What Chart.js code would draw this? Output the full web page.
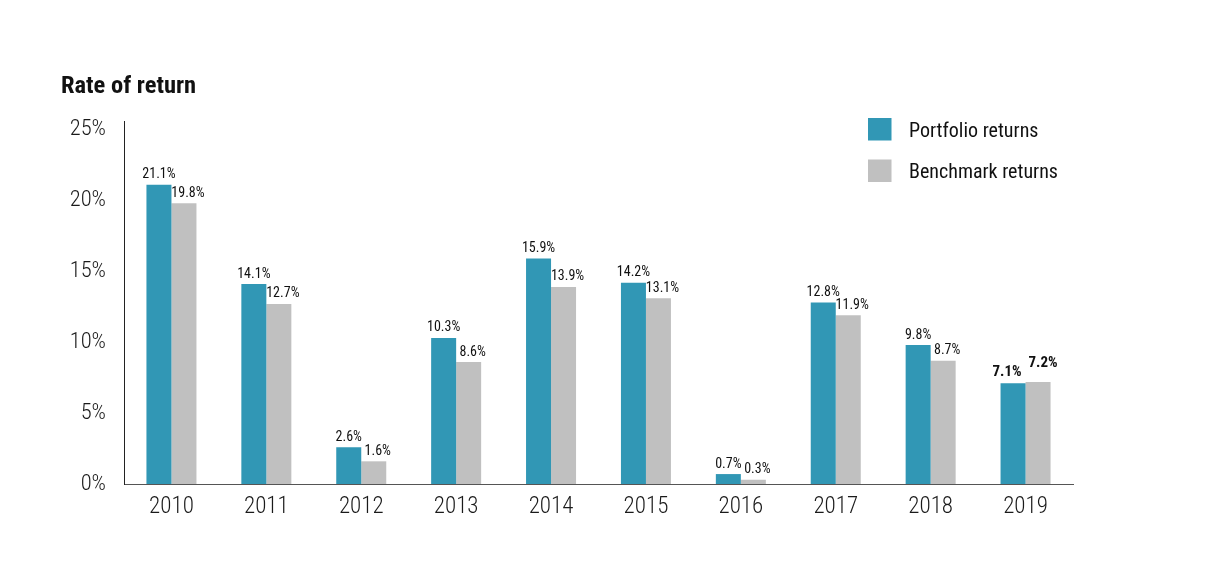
<!DOCTYPE html>
<html>
<head>
<meta charset="utf-8">
<script src="https://cdn.jsdelivr.net/npm/chart.js@4"></script>
<style>
  html, body { margin: 0; padding: 0; background: #fff; }
  #wrap { width: 1227px; height: 571px; position: relative; }
</style>
</head>
<body>
<div id="wrap"><canvas id="chart"></canvas></div>
<script>
// Podatki
const years = ['2010', '2011', '2012', '2013', '2014', '2015', '2016', '2017', '2018', '2019'];
const portfolioReturns = [21.1, 14.1, 2.6, 10.3, 15.9, 14.2, 0.7, 12.8, 9.8, 7.1];
const benchmarkReturns = [19.8, 12.7, 1.6, 8.6, 13.9, 13.1, 0.3, 11.9, 8.7, 7.2];
const yTicks = [0, 5, 10, 15, 20, 25];

const FONT = '"Roboto Condensed", "Open Sans", sans-serif';
const TEAL = '#3197b5';
const GREY = '#c0c0c0';

// Naslov, legenda in oznake vrednosti
const extras = {
  id: 'extras',
  afterDatasetsDraw(chart) {
    const ctx = chart.ctx;
    ctx.save();
    ctx.fillStyle = '#111';
    ctx.font = 'bold 24.5px ' + FONT;
    ctx.textAlign = 'left';
    ctx.textBaseline = 'alphabetic';
    ctx.fillText('Rate of return', 61, 93);

    // legenda
    ctx.font = '20px ' + FONT;
    chart.data.datasets.forEach((ds, i) => {
      const y = 118 + i * 41.5;
      ctx.fillStyle = ds.backgroundColor;
      ctx.fillRect(868, y, 23.5, 22.5);
      ctx.fillStyle = '#111';
      ctx.fillText(ds.label, 909, y + 18.5);
    });

    // vrednosti nad stolpci
    ctx.textAlign = 'center';
    chart.data.datasets.forEach((ds, i) => {
      chart.getDatasetMeta(i).data.forEach((bar, j) => {
        const last = j === chart.data.labels.length - 1;
        ctx.fillStyle = '#111';
        let dx = i === 1 ? 4 : 0;
        let yOff = 6.5;
        if (last) {
          ctx.font = 'bold 15px ' + FONT;
          dx = i === 1 ? 5 : -6;
          yOff = i === 1 ? 15 : 7;
        } else {
          ctx.font = '14px ' + FONT;
        }
        ctx.fillText(ds.data[j].toFixed(1) + '%', bar.x + dx, bar.y - yOff);
      });
    });
    ctx.restore();
  }
};

new Chart(document.getElementById('chart'), {
  type: 'bar',
  data: {
    labels: years,
    datasets: [
      { label: 'Portfolio returns', data: portfolioReturns, backgroundColor: TEAL },
      { label: 'Benchmark returns', data: benchmarkReturns, backgroundColor: GREY }
    ]
  },
  options: {
    responsive: true,
    maintainAspectRatio: false,
    animation: false,
    layout: { padding: { left: 60, right: 154, top: 121, bottom: 0 } },
    datasets: { bar: { barPercentage: 1, categoryPercentage: 0.527 } },
    plugins: {
      legend: { display: false },
      tooltip: { enabled: false },
      title: { display: false }
    },
    scales: {
      x: {
        grid: { display: false, drawTicks: false },
        border: { display: true, color: '#555', width: 1 },
        ticks: { color: '#1a1a1a', font: { family: FONT, size: 23, weight: '300' }, padding: 9 },
        afterFit(s) { s.height = 87; }
      },
      y: {
        min: 0,
        max: 25.6,
        grid: { display: false, drawTicks: false },
        border: { display: true, color: '#222', width: 1 },
        afterBuildTicks(s) { s.ticks = yTicks.map(v => ({ value: v })); },
        ticks: {
          color: '#1a1a1a',
          font: { family: FONT, size: 22.5, weight: '300' },
          padding: 18,
          callback: v => v + '%'
        },
        afterFit(s) { s.width = 64; }
      }
    }
  },
  plugins: [extras]
});
</script>
</body>
</html>
